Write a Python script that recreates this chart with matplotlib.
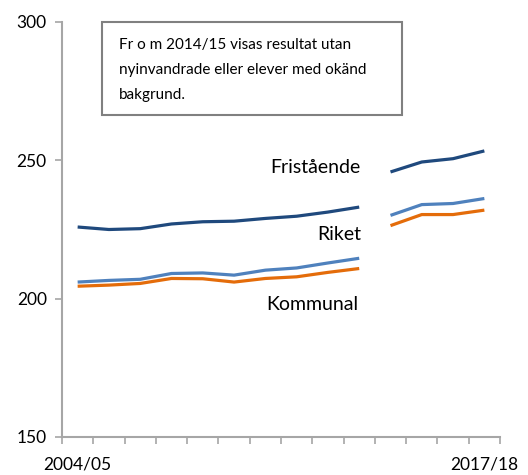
import numpy as np
import matplotlib
matplotlib.use('Agg')
import matplotlib.pyplot as plt
from matplotlib.patches import Rectangle

plt.rcParams['font.family'] = ['Lato', 'DejaVu Sans']

# Years (school years), first and last labelled
years = ['2004/05', '2005/06', '2006/07', '2007/08', '2008/09', '2009/10', '2010/11',
         '2011/12', '2012/13', '2013/14', '2014/15', '2015/16', '2016/17', '2017/18']
# Series values, break between 2013/14 and 2014/15
fristaende = [225.9, 225.0, 225.3, 227.0, 227.8, 228.0, 229.0, 229.8, 231.3, 233.1,
              245.8, 249.4, 250.6, 253.4]
riket = [206.0, 206.6, 207.0, 209.1, 209.3, 208.5, 210.3, 211.1, 212.9, 214.6,
         230.1, 234.0, 234.4, 236.2]
kommunal = [204.5, 204.9, 205.5, 207.3, 207.2, 206.0, 207.3, 207.9, 209.5, 210.9,
            226.4, 230.4, 230.4, 232.0]
break_idx = 10

fig = plt.figure(figsize=(5.28, 4.75), dpi=100)
ax = fig.add_axes([62/528, 1-437/475, 438/528, 415/475])

x = np.arange(len(years))
series = [(fristaende, '#1F497D'), (riket, '#4F81BD'), (kommunal, '#E46C0A')]
for vals, col in series:
    v = np.array(vals)
    ax.plot(x[:break_idx], v[:break_idx], color=col, lw=2.3, solid_capstyle='butt')
    ax.plot(x[break_idx:], v[break_idx:], color=col, lw=2.3, solid_capstyle='butt')

ax.set_xlim(-0.5, len(years) - 0.5)
ax.set_ylim(150, 300)
ax.set_yticks([150, 200, 250, 300])

# Category ticks at boundaries, labels only first and last
ax.set_xticks(np.arange(-0.5, len(years)), minor=True)
ax.set_xticks([0, len(years) - 1])
ax.set_xticklabels([years[0], years[-1]])
ax.tick_params(axis='x', which='major', length=0, pad=14, labelsize=12.5)
ax.tick_params(axis='x', which='minor', length=5, color='#a6a6a6', width=1.2, direction='out')
ax.tick_params(axis='y', length=5, color='#a6a6a6', width=1.2, labelsize=12.5, pad=6)

for s in ['top', 'right']:
    ax.spines[s].set_visible(False)
for s in ['left', 'bottom']:
    ax.spines[s].set_color('#a6a6a6')
    ax.spines[s].set_linewidth(1.5)

# Series labels
ax.text(9.05, 247.5, 'Fristående', ha='right', va='center', fontsize=14)
ax.text(9.05, 223.3, 'Riket', ha='right', va='center', fontsize=14)
ax.text(8.96, 198.0, 'Kommunal', ha='right', va='center', fontsize=14)

# Note box
ax.add_patch(Rectangle((0.091, 0.776), 0.685, 0.224, transform=ax.transAxes,
                       facecolor='white', edgecolor='#808080', lw=1.5, clip_on=False))
ax.text(0.13, 0.885, 'Fr o m 2014/15 visas resultat utan\nnyinvandrade eller elever med okänd\nbakgrund.',
        transform=ax.transAxes, ha='left', va='center', fontsize=11, linespacing=2.0)

fig.savefig('out.png', dpi=100)
